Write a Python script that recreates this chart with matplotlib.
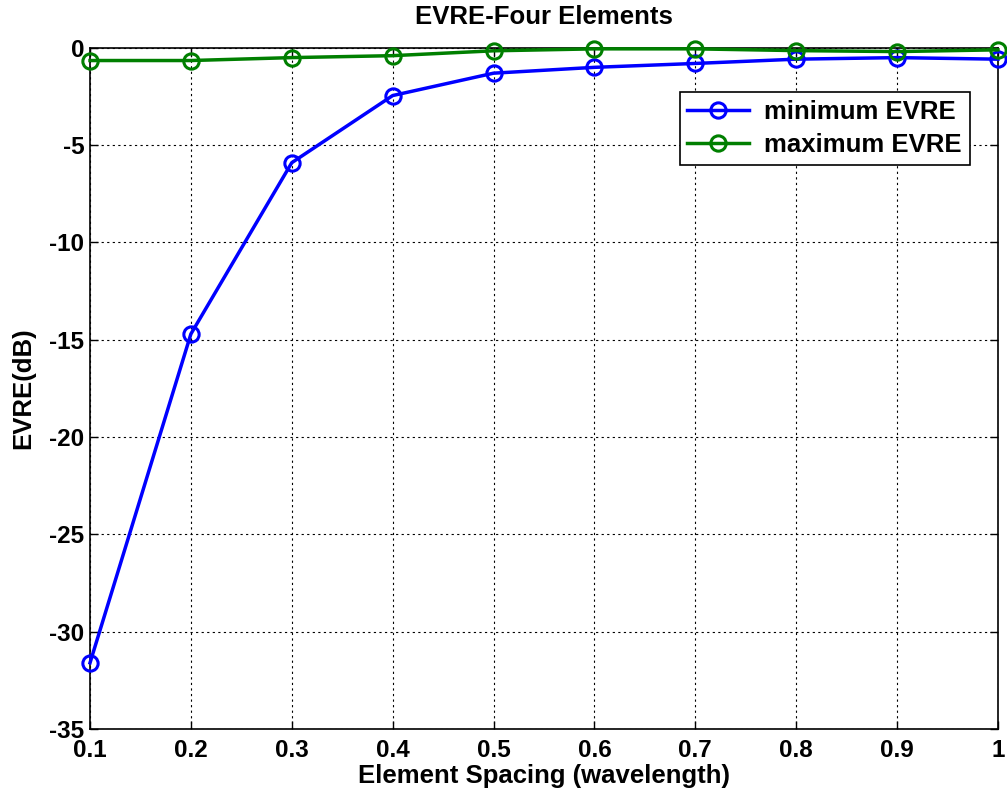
import numpy as np
import matplotlib
matplotlib.use('Agg')
import matplotlib.pyplot as plt

# data
spacing = [0.1, 0.2, 0.3, 0.4, 0.5, 0.6, 0.7, 0.8, 0.9, 1.0]
evre_min = [-31.6, -14.7, -5.9, -2.45, -1.3, -1.0, -0.8, -0.58, -0.5, -0.58]
evre_max = [-0.65, -0.65, -0.5, -0.4, -0.15, -0.05, -0.05, -0.14, -0.19, -0.1]

plt.rcParams['font.family'] = ['Liberation Sans', 'DejaVu Sans']
plt.rcParams['font.weight'] = 'bold'
plt.rcParams['axes.unicode_minus'] = False

fig = plt.figure(figsize=(10.07, 7.98), dpi=100)
ax = fig.add_axes([0.0894, 0.0865, 0.9016, 0.8535])

style = dict(linewidth=2.5, marker='o', markersize=11, markerfacecolor='none',
             markeredgewidth=2.2, clip_on=False, zorder=3)
ax.plot(spacing, evre_min, color='#0000ff', label='minimum EVRE', **style)
ax.plot(spacing, evre_max, color='#007f00', label='maximum EVRE', **style)

ax.set_xlim(0.1, 1.0)
ax.set_ylim(-35, 0)
ax.set_xticks(np.arange(0.1, 1.01, 0.1))
ax.set_xticklabels(['0.1', '0.2', '0.3', '0.4', '0.5', '0.6', '0.7', '0.8', '0.9', '1'])
ax.set_yticks(np.arange(-35, 1, 5))
ax.tick_params(direction='in', length=6, width=1, labelsize=17.5, top=True, right=True)
ax.tick_params(axis='x', pad=7)
ax.tick_params(axis='y', pad=4)
for lbl in ax.get_xticklabels() + ax.get_yticklabels():
    lbl.set_fontweight('bold')
ax.grid(True, linestyle=(0, (2, 3)), color='black', linewidth=0.8)
for s in ax.spines.values():
    s.set_linewidth(1.2)

ax.set_title('EVRE-Four Elements', fontsize=18.5, fontweight='bold', pad=17)
ax.set_xlabel('Element Spacing (wavelength)', fontsize=18.5, fontweight='bold', labelpad=2)
ax.set_ylabel('EVRE(dB)', fontsize=18.5, fontweight='bold', labelpad=10)

leg = ax.legend(loc='upper right', bbox_to_anchor=(0.969, 0.935), fontsize=18.5,
                fancybox=False, framealpha=1, edgecolor='black', handlelength=2.4,
                borderpad=0.3, labelspacing=0.35, handletextpad=0.6, borderaxespad=0)
leg.get_frame().set_linewidth(1.2)

plt.savefig('out.png', dpi=100)
plt.close()
